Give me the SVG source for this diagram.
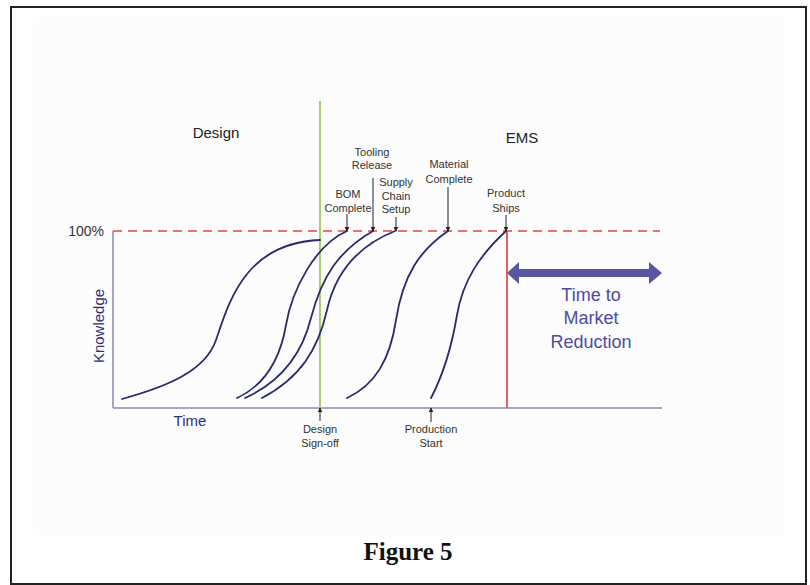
<svg xmlns="http://www.w3.org/2000/svg" width="810" height="585" viewBox="0 0 810 585">
<defs>
<style>
.lbl{font-family:"Liberation Sans",Arial,sans-serif;font-size:11px;fill:#333;text-anchor:middle}
.hd{font-family:"Liberation Sans",Arial,sans-serif;font-size:15px;fill:#222;text-anchor:middle}
.ax{font-family:"Liberation Sans",Arial,sans-serif;font-size:15px;fill:#2e2e7a;text-anchor:middle}
.ttm{font-family:"Liberation Sans",Arial,sans-serif;font-size:18px;fill:#4c4ca0;text-anchor:middle}
.curve{fill:none;stroke:#2b2b6b;stroke-width:1.8;stroke-linecap:round}
.ptr{stroke:#222;stroke-width:1;fill:none;marker-end:url(#ah)}
</style>
<marker id="ah" viewBox="0 0 8 8" refX="7" refY="4" markerWidth="5" markerHeight="5" orient="auto" markerUnits="userSpaceOnUse">
<path d="M0,0 L8,4 L0,8 Z" fill="#222"/>
</marker>
</defs>
<rect x="0" y="0" width="810" height="585" fill="#fff"/>
<rect x="11" y="7" width="795" height="577" fill="#fff" stroke="#222" stroke-width="2"/>
<rect x="33" y="17" width="752" height="518" fill="#fcfcfc"/>

<g id="axes">
<line x1="113" y1="231" x2="113" y2="408" stroke="#8a8ab8" stroke-width="1.5"/>
<line x1="113" y1="408" x2="662" y2="408" stroke="#8a8ab8" stroke-width="1.5"/>
<line x1="113" y1="231" x2="660" y2="231" stroke="#d94a4a" stroke-width="1.6" stroke-dasharray="9,6"/>
<line x1="320" y1="101" x2="320" y2="408" stroke="#a9cc6e" stroke-width="2"/>
<line x1="507" y1="231" x2="507" y2="408" stroke="#e06464" stroke-width="2"/>
</g>

<g id="labels-axis">
<text x="104" y="236" font-family="Liberation Sans, Arial, sans-serif" font-size="14" fill="#333" text-anchor="end">100%</text>
<text class="ax" transform="translate(104,326) rotate(-90)">Knowledge</text>
<text class="ax" x="190" y="426">Time</text>
<text class="hd" x="216" y="138">Design</text>
<text class="hd" x="522" y="143">EMS</text>
</g>

<g id="curves">
<path class="curve" d="M122,399 C165,387 205,372 216,340 C229,302 245,243 320,240"/>
<path class="curve" d="M237,398 C265,385 280,360 286,325 C292,290 315,245 347,231"/>
<path class="curve" d="M245,398 C285,380 303,350 311,318 C322,275 340,250 373,231"/>
<path class="curve" d="M262,398 C300,378 318,350 327,310 C336,270 360,245 395,231"/>
<path class="curve" d="M347,398 C375,385 390,360 396,320 C403,275 420,250 448,231"/>
<path class="curve" d="M431,398 C443,375 452,345 457,315 C463,280 480,255 506,231"/>
</g>

<g id="connectors">
<line class="ptr" x1="347" y1="214" x2="347" y2="231"/>
<line class="ptr" x1="373" y1="178" x2="373" y2="231"/>
<line class="ptr" x1="396" y1="217" x2="396" y2="231"/>
<line class="ptr" x1="448" y1="187" x2="448" y2="231"/>
<line class="ptr" x1="506" y1="215" x2="506" y2="231"/>
<line class="ptr" x1="320" y1="421" x2="320" y2="408"/>
<line class="ptr" x1="431" y1="422" x2="431" y2="408"/>
</g>

<g id="milestone-tooling"><text class="lbl" x="372" y="156">Tooling</text><text class="lbl" x="372" y="169">Release</text></g>
<g id="milestone-bom"><text class="lbl" x="348" y="198">BOM</text><text class="lbl" x="348" y="212">Complete</text></g>
<g id="milestone-supply"><text class="lbl" x="396" y="186">Supply</text><text class="lbl" x="396" y="200">Chain</text><text class="lbl" x="396" y="213">Setup</text></g>
<g id="milestone-material"><text class="lbl" x="449" y="168">Material</text><text class="lbl" x="449" y="183">Complete</text></g>
<g id="milestone-ships"><text class="lbl" x="506" y="197">Product</text><text class="lbl" x="506" y="212">Ships</text></g>
<g id="milestone-signoff"><text class="lbl" x="320" y="433">Design</text><text class="lbl" x="320" y="447">Sign-off</text></g>
<g id="milestone-production"><text class="lbl" x="431" y="433">Production</text><text class="lbl" x="431" y="447">Start</text></g>

<g id="time-to-market">
<polygon points="507,273 519,262 519,269 649,269 649,262 662,273 649,284 649,277 519,277 519,284" fill="#5656a2"/>
<text class="ttm" x="591" y="301">Time to</text>
<text class="ttm" x="591" y="324">Market</text>
<text class="ttm" x="591" y="348">Reduction</text>
</g>

<text x="408" y="560" font-family="Liberation Serif, 'Times New Roman', serif" font-size="25" font-weight="bold" fill="#111" text-anchor="middle">Figure 5</text>
</svg>
